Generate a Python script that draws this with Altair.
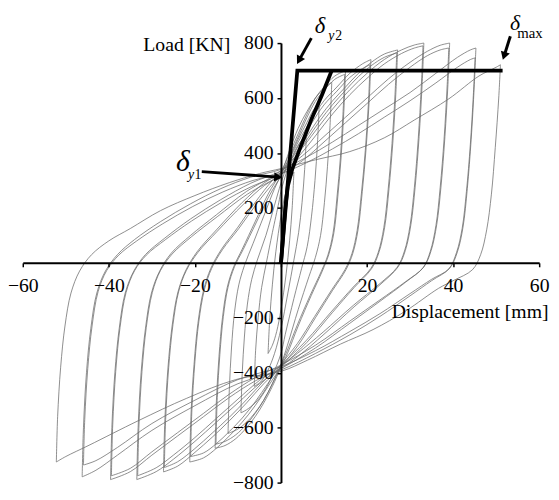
import altair as alt
import pandas as pd

# ---------------- axis ticks ----------------
X_TICKS = [-60, -40, -20, 0, 20, 40, 60]
Y_TICKS = [-800, -600, -400, -200, 0, 200, 400, 600, 800]

# ---------------- hysteresis branches (displacement mm, load kN) ----------------
# "UP" = loading branch from negative peak to positive peak, "DN" = from positive peak to negative peak
L51_UP = [(-52.2,-725),(-51.9,-560),(-51.2,-380),(-50.2,-230),(-48.8,-110),(-46.8,-30),(-44,30),(-40,80),(-35,125),(-28,190),(-20,245),(-12,292),(-5,325),(0,343),(8,375),(16,405),(24,455),(31,520),(39,597),(46,680),(50,712),(51,721)]
L51_DN = [(51,721),(50.6,600),(49.8,420),(48.9,250),(47.8,120),(46.4,30),(44.5,-25),(40,-65),(36.6,-93),(29,-175),(21.4,-243),(13.8,-296),(6.2,-354),(0,-395),(-10.5,-425),(-21.9,-493),(-33.2,-575),(-44.6,-664),(-50,-705),(-52.2,-725)]

L45A_UP = [(-46.2,-779),(-45.9,-600),(-45.2,-400),(-44.2,-240),(-42.8,-110),(-40.8,-30),(-38,30),(-34,85),(-28,150),(-21,215),(-14,270),(-7,312),(0,340),(6,385),(12,440),(18,500),(24,560),(30,620),(36,690),(41,748),(44,775),(45.3,782)]
L45A_DN = [(45.3,782),(44.9,640),(44.2,450),(43.3,270),(42.3,130),(41,40),(39.2,-20),(35,-65),(30,-120),(23,-195),(16,-262),(8,-330),(0,-390),(-10,-440),(-20,-520),(-30,-610),(-38,-700),(-43,-755),(-46.2,-779)]
L45B_UP = [(-45.9,-736),(-45.6,-570),(-44.9,-385),(-43.9,-230),(-42.5,-105),(-40.5,-28),(-37.7,28),(-33.5,80),(-27.5,142),(-20.5,205),(-13.5,258),(-6.5,300),(0,325),(6,365),(12,415),(18,470),(24,530),(30,590),(36,655),(41,712),(44,740),(45.1,746)]
L45B_DN = [(45.1,746),(44.7,610),(44.0,430),(43.1,260),(42.1,125),(40.8,38),(39.0,-22),(35,-60),(30,-112),(23,-185),(16,-250),(8,-320),(0,-378),(-10,-425),(-20,-500),(-30,-585),(-38,-672),(-43,-720),(-45.9,-736)]

L39A_UP = [(-39.6,-789),(-39.3,-600),(-38.6,-400),(-37.6,-240),(-36.2,-110),(-34.2,-30),(-31.5,30),(-27,90),(-21,160),(-14,230),(-7,290),(0,335),(5,390),(10,460),(15,530),(20,600),(25,670),(30,730),(34,770),(37,792),(39.2,800)]
L39A_DN = [(39.2,800),(38.8,650),(38.1,460),(37.2,280),(36.2,140),(34.9,45),(33.2,-15),(29,-70),(23,-140),(16,-220),(8,-310),(0,-385),(-6,-430),(-12,-490),(-18,-560),(-24,-630),(-30,-700),(-35,-760),(-39.6,-789)]
L39B_UP = [(-39.4,-775),(-39.1,-590),(-38.4,-395),(-37.4,-235),(-36,-108),(-34,-28),(-31.3,28),(-26.8,85),(-20.8,152),(-13.8,220),(-6.8,278),(0,322),(5,372),(10,440),(15,510),(20,580),(25,650),(30,712),(34,754),(37,775),(39.0,782)]
L39B_DN = [(39.0,782),(38.6,640),(37.9,450),(37.0,275),(36.0,135),(34.7,42),(33.0,-18),(29,-68),(23,-135),(16,-212),(8,-300),(0,-372),(-6,-418),(-12,-478),(-18,-548),(-24,-618),(-30,-688),(-35,-748),(-39.4,-775)]

L33A_UP = [(-33.5,-789),(-33.2,-600),(-32.5,-400),(-31.5,-240),(-30.1,-110),(-28.2,-30),(-25.5,35),(-21,100),(-15,175),(-8,260),(0,335),(4,400),(8,480),(12,560),(16,630),(20,690),(24,740),(28,775),(31,793),(33.2,800)]
L33A_DN = [(33.2,800),(32.8,650),(32.1,460),(31.2,280),(30.2,140),(28.9,45),(27.2,-15),(23,-80),(17,-160),(10,-260),(4,-340),(0,-385),(-5,-440),(-10,-510),(-15,-580),(-20,-650),(-25,-715),(-29,-760),(-33.5,-789)]
L33B_UP = [(-33.3,-775),(-33.0,-590),(-32.3,-395),(-31.3,-235),(-29.9,-108),(-28,-28),(-25.3,32),(-20.8,95),(-14.8,168),(-7.8,250),(0,322),(4,385),(8,462),(12,542),(16,612),(20,672),(24,724),(28,762),(31,782),(33.0,790)]
L33B_DN = [(33.0,790),(32.6,640),(31.9,452),(31.0,275),(30.0,136),(28.7,43),(27.0,-16),(22.8,-78),(16.8,-155),(9.8,-252),(3.8,-330),(0,-374),(-5,-428),(-10,-496),(-15,-566),(-20,-636),(-25,-700),(-29,-746),(-33.3,-775)]

L27A_UP = [(-27.3,-761),(-27.0,-580),(-26.3,-390),(-25.3,-230),(-24,-110),(-22.2,-30),(-19.5,40),(-15,120),(-9,220),(-4,290),(0,330),(3,390),(6,460),(9,530),(12,590),(15,640),(18,690),(21,730),(24,760),(27.1,775)]
L27A_DN = [(27.1,775),(26.7,620),(26.0,440),(25.1,270),(24.1,130),(22.8,40),(21.1,-20),(17,-90),(12,-180),(6,-290),(0,-380),(-4,-440),(-8,-510),(-12,-575),(-16,-635),(-20,-690),(-24,-740),(-27.3,-761)]
L27B_UP = [(-27.1,-745),(-26.8,-570),(-26.1,-382),(-25.1,-225),(-23.8,-106),(-22,-28),(-19.3,38),(-14.8,115),(-8.8,212),(-3.8,282),(0,320),(3,378),(6,448),(9,516),(12,576),(15,628),(18,678),(21,718),(24,748),(26.9,764)]
L27B_DN = [(26.9,764),(26.5,612),(25.8,434),(24.9,266),(23.9,128),(22.6,38),(20.9,-20),(16.8,-88),(11.8,-176),(5.8,-284),(0,-372),(-4,-430),(-8,-498),(-12,-562),(-16,-620),(-20,-676),(-24,-724),(-27.1,-745)]

L21A_UP = [(-21.2,-725),(-20.9,-550),(-20.2,-370),(-19.3,-220),(-18,-100),(-16.3,-20),(-13.8,50),(-10,130),(-6,220),(-2,300),(0,330),(2,380),(4,440),(7,520),(10,590),(13,640),(16,690),(19,725),(20.9,740)]
L21A_DN = [(20.9,740),(20.5,590),(19.8,420),(18.9,260),(17.9,120),(16.7,35),(15.1,-25),(12,-100),(8,-200),(4,-300),(0,-380),(-3,-450),(-6,-520),(-9,-580),(-12,-630),(-15,-675),(-18,-710),(-21.2,-725)]
L21B_UP = [(-21.0,-705),(-20.7,-535),(-20.0,-360),(-19.1,-215),(-17.8,-98),(-16.1,-20),(-13.6,48),(-9.8,125),(-5.8,212),(-1.8,290),(0,318),(2,366),(4,425),(7,505),(10,575),(13,625),(16,675),(19,708),(20.7,721)]
L21B_DN = [(20.7,721),(20.3,575),(19.6,410),(18.7,254),(17.7,118),(16.5,34),(14.9,-24),(11.8,-98),(7.8,-196),(3.8,-294),(0,-370),(-3,-438),(-6,-506),(-9,-565),(-12,-614),(-15,-658),(-18,-692),(-21.0,-705)]

L15A_UP = [(-15.3,-675),(-15.0,-500),(-14.4,-340),(-13.6,-200),(-12.5,-90),(-11,-15),(-9,50),(-6,150),(-3,250),(0,330),(2,400),(4,470),(6,540),(8,600),(10,640),(12.5,680),(15,700)]
L15A_DN = [(15,700),(14.6,550),(14.0,390),(13.2,240),(12.3,110),(11.1,30),(9.6,-30),(7,-120),(4,-230),(1.5,-330),(0,-380),(-2,-450),(-4,-510),(-6,-560),(-8,-600),(-10.5,-640),(-13,-665),(-15.3,-675)]
L15B_UP = [(-15.1,-660),(-14.8,-490),(-14.2,-333),(-13.4,-196),(-12.3,-88),(-10.8,-14),(-8.8,48),(-5.8,145),(-2.8,242),(0,318),(2,388),(4,458),(6,528),(8,588),(10,628),(12.5,668),(14.8,686)]
L15B_DN = [(14.8,686),(14.4,540),(13.8,382),(13.0,236),(12.1,108),(10.9,28),(9.4,-30),(6.8,-118),(3.8,-226),(1.3,-325),(0,-372),(-2,-440),(-4,-500),(-6,-548),(-8,-588),(-10.5,-626),(-13,-650),(-15.1,-660)]

L12_UP = [(-12.3,-621),(-12.0,-460),(-11.5,-310),(-10.8,-180),(-9.8,-80),(-8.5,-10),(-6.5,70),(-4,170),(-1.5,270),(0,320),(2,410),(4,490),(6,550),(8,600),(10,635),(11.8,657)]
L12_DN = [(11.8,657),(11.4,500),(10.8,350),(10.1,220),(9.2,100),(8.0,20),(6.5,-50),(4,-170),(1.5,-300),(0,-370),(-2,-440),(-4,-500),(-6,-545),(-8,-580),(-10,-605),(-12.3,-621)]

L9_UP = [(-9.3,-546),(-9.0,-400),(-8.5,-270),(-7.8,-150),(-6.8,-60),(-5.5,10),(-3.5,100),(-1.5,210),(0,290),(2,380),(4,450),(6,510),(7.5,555),(8.9,580)]
L9_DN = [(8.9,580),(8.5,440),(7.9,300),(7.1,170),(6.1,60),(4.8,-20),(3,-130),(1,-260),(0,-330),(-2,-410),(-4,-470),(-6,-510),(-8,-535),(-9.3,-546)]

L6_UP = [(-6.2,-450),(-5.9,-320),(-5.3,-200),(-4.5,-90),(-3.4,0),(-2,110),(-0.5,220),(0,260),(1.5,340),(3,400),(4.5,440),(5.9,460)]
L6_DN = [(5.9,460),(5.5,340),(4.9,220),(4.1,110),(3.0,10),(1.6,-110),(0,-240),(-1.5,-330),(-3,-390),(-4.5,-430),(-6.2,-450)]

L3_UP = [(-3,-330),(-2.6,-200),(-2,-80),(-1.2,40),(0,170),(1,250),(2,300),(3,330)]
L3_DN = [(3,330),(2.6,200),(2,80),(1.2,-40),(0,-170),(-1,-250),(-2,-300),(-3,-330)]

BRANCHES = {
    "L51_UP": L51_UP, "L51_DN": L51_DN,
    "L45A_UP": L45A_UP, "L45A_DN": L45A_DN, "L45B_UP": L45B_UP, "L45B_DN": L45B_DN,
    "L39A_UP": L39A_UP, "L39A_DN": L39A_DN, "L39B_UP": L39B_UP, "L39B_DN": L39B_DN,
    "L33A_UP": L33A_UP, "L33A_DN": L33A_DN, "L33B_UP": L33B_UP, "L33B_DN": L33B_DN,
    "L27A_UP": L27A_UP, "L27A_DN": L27A_DN, "L27B_UP": L27B_UP, "L27B_DN": L27B_DN,
    "L21A_UP": L21A_UP, "L21A_DN": L21A_DN, "L21B_UP": L21B_UP, "L21B_DN": L21B_DN,
    "L15A_UP": L15A_UP, "L15A_DN": L15A_DN, "L15B_UP": L15B_UP, "L15B_DN": L15B_DN,
    "L12_UP": L12_UP, "L12_DN": L12_DN,
    "L9_UP": L9_UP, "L9_DN": L9_DN,
    "L6_UP": L6_UP, "L6_DN": L6_DN,
    "L3_UP": L3_UP, "L3_DN": L3_DN,
}

# ---------------- thick idealisation lines ----------------
BILINEAR = [(0, 0), (3.8, 700), (51.5, 700)]
ENVELOPE = [(0, 0), (0.5, 100), (1.0, 200), (1.6, 280), (2.6, 340), (4.5, 420), (7, 520), (9.5, 610), (11.8, 700)]

# ---------------- annotations ----------------
ARROW_NAMES = ["y1", "y2", "max"]
ARROW_X0 = [-18.4, 7.06, 53.3]
ARROW_Y0 = [332, 818, 825]
ARROW_HX = [-0.64, 4.19, 51.85]
ARROW_HY = [312, 737, 753]
ARROW_ANGLE = [94, 209, 198]

DELTA_X = [-22.8, 9.1, 54.4]
DELTA_Y = [368, 862, 871]
DELTA_SIZE = [30, 23, 22]

SUB_Y_X = [-21.6, 11.0]
SUB_Y_Y = [321, 825]
SUB_NUM_TEXT = ["1", "2", "max"]
SUB_NUM_X = [-20.1, 12.6, 54.9]
SUB_NUM_Y = [321, 825, 836]
SUB_SIZE = [14, 14, 15]

FONT = "Liberation Serif"

W, H = 524, 446

rows = []
for name, pts in BRANCHES.items():
    for i, (x, y) in enumerate(pts):
        rows.append({"branch": name, "i": i, "x": x, "y": y})
loops_df = pd.DataFrame(rows)

thick_rows = []
for name, pts in (("bilinear", BILINEAR), ("envelope", ENVELOPE)):
    for i, (x, y) in enumerate(pts):
        thick_rows.append({"line": name, "i": i, "x": x, "y": y})
thick_df = pd.DataFrame(thick_rows)

arrow_df = pd.DataFrame({"name": ARROW_NAMES, "x0": ARROW_X0, "y0": ARROW_Y0,
                         "hx": ARROW_HX, "hy": ARROW_HY, "angle": ARROW_ANGLE})
delta_df = pd.DataFrame({"x": DELTA_X, "y": DELTA_Y, "size": DELTA_SIZE, "t": ["δ", "δ", "δ"]})
suby_df = pd.DataFrame({"x": SUB_Y_X, "y": SUB_Y_Y, "t": ["y", "y"]})
subn_df = pd.DataFrame({"x": SUB_NUM_X, "y": SUB_NUM_Y, "t": SUB_NUM_TEXT, "size": SUB_SIZE})

xscale = alt.Scale(domain=[-60, 60], nice=False, zero=False)
yscale = alt.Scale(domain=[-800, 800], nice=False, zero=False)

x_axis = alt.Axis(
    values=X_TICKS, orient="bottom", offset=-H / 2, grid=False, zindex=1,
    domainColor="black", domainWidth=2, tickColor="black", tickWidth=1.5, tickSize=4,
    labelFont=FONT, labelFontSize=20, labelColor="black", labelPadding=9,
    labelFlush=False, labelOverlap=False,
    labelExpr="datum.value == 0 ? '' : datum.label",
    title="Displacement [mm]", titleFont=FONT, titleFontSize=20, titleFontWeight="normal",
    titleColor="black", titleX=533, titleY=49, titleAlign="right", titleBaseline="middle",
)
y_axis = alt.Axis(
    values=Y_TICKS, orient="left", offset=-W / 2, grid=False, zindex=1,
    domainColor="black", domainWidth=2, tickColor="black", tickWidth=1.5, tickSize=4,
    labelFont=FONT, labelFontSize=20, labelColor="black", labelPadding=4,
    labelFlush=False, labelOverlap=False,
    labelExpr="datum.value == 0 ? '' : datum.label",
    title="Load [KN]", titleFont=FONT, titleFontSize=20, titleFontWeight="normal",
    titleColor="black", titleAngle=0, titleX=-52, titleY=2, titleAlign="right",
    titleBaseline="middle",
)

loops = alt.Chart(loops_df).mark_line(
    interpolate="catmull-rom", color="#6a6a6a", strokeWidth=0.9, opacity=0.85
).encode(
    x=alt.X("x:Q", scale=xscale, axis=x_axis),
    y=alt.Y("y:Q", scale=yscale, axis=y_axis),
    detail="branch:N",
    order="i:Q",
)

thick = alt.Chart(thick_df).mark_line(color="black", strokeWidth=3.8).encode(
    x=alt.X("x:Q", scale=xscale),
    y=alt.Y("y:Q", scale=yscale),
    detail="line:N",
    order="i:Q",
)

arrows = alt.Chart(arrow_df).mark_rule(color="black", strokeWidth=3).encode(
    x="x0:Q", y="y0:Q", x2="hx:Q", y2="hy:Q"
)
heads = alt.Chart(arrow_df).mark_point(shape="triangle-up", filled=True, color="black",
                                       opacity=1, size=90).encode(
    x="hx:Q", y="hy:Q", angle=alt.Angle("angle:Q", scale=None)
)

deltas = alt.Chart(delta_df).mark_text(font=FONT, fontStyle="italic", color="black",
                                       align="center", baseline="middle").encode(
    x="x:Q", y="y:Q", text="t:N", size=alt.Size("size:Q", scale=None)
)
suby = alt.Chart(suby_df).mark_text(font=FONT, fontStyle="italic", color="black",
                                    align="left", baseline="middle", fontSize=14).encode(
    x="x:Q", y="y:Q", text="t:N"
)
subn = alt.Chart(subn_df).mark_text(font=FONT, color="black",
                                    align="left", baseline="middle").encode(
    x="x:Q", y="y:Q", text="t:N", size=alt.Size("size:Q", scale=None)
)

chart = alt.layer(loops, thick, arrows, heads, deltas, suby, subn).properties(
    width=W, height=H,
    autosize=alt.AutoSizeParams(type="none"),
    padding={"left": 15, "top": 32, "right": 12, "bottom": 10},
).configure(background="white").configure_view(stroke="transparent", strokeWidth=0)

chart.save("out.html", embed_options={"renderer": "svg", "actions": False})
